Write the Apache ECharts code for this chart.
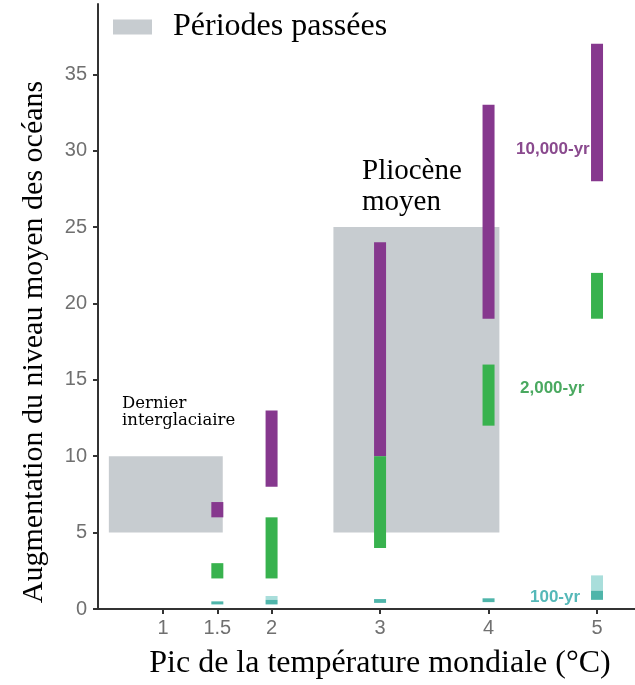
<!DOCTYPE html>
<html><head><meta charset="utf-8">
<script src="https://cdn.jsdelivr.net/npm/echarts@6/dist/echarts.min.js"></script>
<style>html,body{margin:0;padding:0;background:#fff}#c{width:635px;height:685px}</style>
</head><body><div id="c"></div>
<script>
// Data
const xTicks = [1, 1.5, 2, 3, 4, 5];
const yTicks = [0, 5, 10, 15, 20, 25, 30, 35];
// 10,000-yr (purple): [x, low, high]
const yr10000 = [[1.5, 6, 7], [2, 8, 13], [3, 10, 24], [4, 19, 33], [5, 28, 37]];
// 2,000-yr (green)
const yr2000 = [[1.5, 2, 3], [2, 2, 6], [3, 4, 10], [4, 12, 16], [5, 19, 22]];
// 100-yr (teal)
const yr100 = [[1.5, 0.3, 0.5], [2, 0.3, 0.6], [3, 0.4, 0.65], [4, 0.45, 0.7], [5, 0.6, 1.2]];
// 100-yr upper range (light teal)
const yr100Upper = [[2, 0.6, 0.85], [5, 1.2, 2.2]];
// Past periods: [x0, x1, y0, y1]
const pastPeriods = [[0.5, 1.55, 5, 10], [2.57, 4.1, 5, 25]];

const serif = '"Liberation Serif", "Times New Roman", serif';
const dvSerif = '"DejaVu Serif", serif';
const sans = '"Liberation Sans", Arial, sans-serif';
const narrow = '"Liberation Sans Narrow", "Arial Narrow", "Liberation Sans", sans-serif';

function rangeBar(color, w) {
  return function (params, api) {
    const x = api.value(0), lo = api.value(1), hi = api.value(2);
    const p1 = api.coord([x, hi]), p2 = api.coord([x, lo]);
    return { type: 'rect', shape: { x: p1[0] - w / 2, y: p1[1], width: w, height: p2[1] - p1[1] }, style: { fill: color } };
  };
}

const chart = echarts.init(document.getElementById('c'));
chart.setOption({
  animation: false,
  grid: { left: 98, right: 0, top: 4, bottom: 76 },
  legend: {
    data: ['Périodes passées'], left: 108, top: 6, icon: 'rect', itemWidth: 39, itemHeight: 15, itemGap: 10,
    textStyle: { fontFamily: serif, fontSize: 32, color: '#000', padding: [4, 0, 0, 16] }
  },
  xAxis: {
    type: 'value', min: 0.4, max: 5.35,
    axisLine: { lineStyle: { color: '#333', width: 2 } },
    splitLine: { show: false },
    axisTick: { customValues: xTicks, length: 5, lineStyle: { color: '#333', width: 2 } },
    axisLabel: { customValues: xTicks, color: '#707070', fontFamily: narrow, fontSize: 20, margin: 9 }
  },
  yAxis: {
    type: 'value', min: 0, max: 39.6, interval: 5,
    axisLine: { show: true, lineStyle: { color: '#333', width: 2 } },
    splitLine: { show: false },
    axisTick: { show: true, customValues: yTicks, length: 5, lineStyle: { color: '#333', width: 2 } },
    axisLabel: { customValues: yTicks, color: '#707070', fontFamily: narrow, fontSize: 20, margin: 11 }
  },
  graphic: [
    { type: 'text', left: 122, top: 395, style: { text: 'Dernier\ninterglaciaire', font: '16.5px ' + dvSerif, fill: '#000', lineHeight: 17 } },
    { type: 'text', left: 362, top: 156, style: { text: 'Pliocène\nmoyen', font: '29px ' + serif, fill: '#000', lineHeight: 31 } },
    { type: 'text', left: 516, top: 141, style: { text: '10,000-yr', font: 'bold 17px ' + sans, fill: '#8a4a8e' } },
    { type: 'text', left: 520, top: 380, style: { text: '2,000-yr', font: 'bold 17px ' + sans, fill: '#4aa960' } },
    { type: 'text', left: 530, top: 589, style: { text: '100-yr', font: 'bold 17px ' + sans, fill: '#55b8b8' } },
    { type: 'text', x: 380, y: 664, style: { text: 'Pic de la température mondiale (°C)', font: '32px ' + serif, fill: '#000', align: 'center', verticalAlign: 'middle' } },
    { type: 'text', x: 34, y: 342, rotation: Math.PI / 2, style: { text: 'Augmentation du niveau moyen des océans', font: '30px ' + serif, fill: '#000', align: 'center', verticalAlign: 'middle' } }
  ],
  series: [
    {
      name: 'Périodes passées', type: 'custom', color: '#c7ccd0', z: 1,
      renderItem: function (params, api) {
        const a = api.coord([api.value(0), api.value(3)]), b = api.coord([api.value(1), api.value(2)]);
        return { type: 'rect', shape: { x: a[0], y: a[1], width: b[0] - a[0], height: b[1] - a[1] }, style: { fill: '#c7ccd0' } };
      },
      data: pastPeriods
    },
    { name: '10,000-yr', type: 'custom', z: 3, renderItem: rangeBar('#86388e', 12), data: yr10000 },
    { name: '2,000-yr', type: 'custom', z: 3, renderItem: rangeBar('#38b24e', 12), data: yr2000 },
    { name: '100-yr-upper', type: 'custom', z: 3, renderItem: rangeBar('#a9dedb', 12), data: yr100Upper },
    { name: '100-yr', type: 'custom', z: 3, renderItem: rangeBar('#4fb5aa', 12), data: yr100 }
  ]
});
</script></body></html>
